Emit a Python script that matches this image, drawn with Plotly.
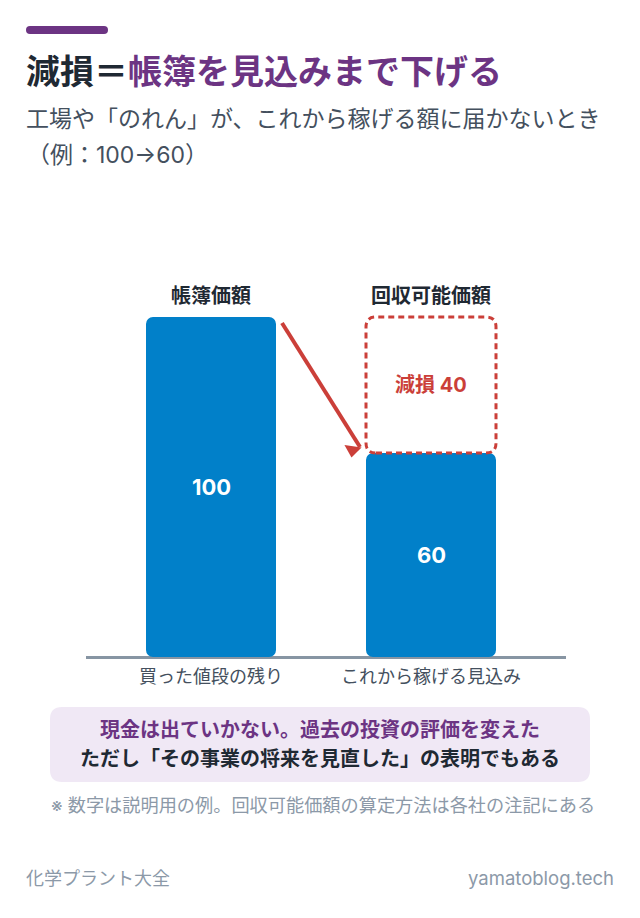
import plotly.graph_objects as go

W, H = 640, 918
CJK = "Inter, 'Noto Sans CJK JP', sans-serif"

# Values
positions = [0, 1]
tick_labels = ["買った値段の残り", "これから稼げる見込み"]
top_labels = ["帳簿価額", "回収可能価額"]
values = [100, 60]
impairment = values[0] - values[1]

# Colours
BLUE = "#0180C9"
PURPLE = "#6C3483"
RED = "#CB3F39"
DARK = "#1F2933"
GREY = "#44505E"
LIGHT = "#8C99A8"
AXIS = "#8795A3"
PANEL = "#F0E8F5"

# Pixel scale of the chart area
PX_X = 220
PX_Y = 3.4
ZERO_X = 211
ZERO_Y = 657
BAR_WIDTH = 130 / PX_X


def px(x):
    return x / W


def py(y):
    return 1 - y / H


def round_rect(x0, y0, x1, y1, rx, ry):
    # rounded box path, y0 is the lower edge
    return (
        f"M{x0 + rx},{y0} L{x1 - rx},{y0} Q{x1},{y0} {x1},{y0 + ry} "
        f"L{x1},{y1 - ry} Q{x1},{y1} {x1 - rx},{y1} "
        f"L{x0 + rx},{y1} Q{x0},{y1} {x0},{y1 - ry} "
        f"L{x0},{y0 + ry} Q{x0},{y0} {x0 + rx},{y0} Z"
    )


fig = go.Figure()

# An explicit base in overlay mode rounds both ends of the bar
fig.add_trace(go.Bar(
    x=positions,
    y=values,
    base=[0, 0],
    width=BAR_WIDTH,
    marker=dict(color=BLUE, line=dict(width=0), cornerradius=7),
    showlegend=False,
    hoverinfo="skip",
))

# Arrow from the book value down to the recoverable amount
fig.add_trace(go.Scatter(
    x=[(282 - ZERO_X) / PX_X, (360 - ZERO_X) / PX_X],
    y=[(ZERO_Y - 323) / PX_Y, (ZERO_Y - 447) / PX_Y],
    mode="lines",
    line=dict(color=RED, width=4),
    showlegend=False,
    hoverinfo="skip",
))
fig.add_trace(go.Scatter(
    x=[(352.5 - ZERO_X) / PX_X],
    y=[(ZERO_Y - 450) / PX_Y],
    mode="markers",
    marker=dict(symbol="triangle-down", size=15, color=RED, angle=8),
    showlegend=False,
    hoverinfo="skip",
))

shapes = [
    dict(type="path", xref="paper", yref="paper", layer="below",
         path=round_rect(px(26), py(34), px(108), py(26), 4 / W, 4 / H),
         fillcolor=PURPLE, line=dict(width=0)),
    dict(type="path", xref="paper", yref="paper", layer="below",
         path=round_rect(px(50), py(782), px(590), py(707), 12 / W, 12 / H),
         fillcolor=PANEL, line=dict(width=0)),
    # Impairment box on top of the recoverable bar
    dict(type="path", xref="x", yref="y", layer="above",
         path=round_rect(1 - BAR_WIDTH / 2, values[1], 1 + BAR_WIDTH / 2, values[0],
                         10 / PX_X, 10 / PX_Y),
         fillcolor="rgba(0,0,0,0)",
         line=dict(color=RED, width=3, dash="6px,4px")),
]


def label(text, x, y, size, color, bold=False, anchor="left", xref="paper", yref="paper"):
    return dict(
        text=f"<b>{text}</b>" if bold else text,
        x=x, y=y, xref=xref, yref=yref,
        xanchor=anchor, yanchor="middle",
        showarrow=False,
        font=dict(family=CJK, size=size, color=color),
    )


annotations = [
    label("工場や「のれん」が、これから稼げる額に届かないとき", px(24), py(119), 23, GREY),
    label("（例：100→60）", px(25), py(155), 23, GREY),
    label(f"減損 {impairment}", 1, values[1] + impairment / 2, 20, RED, True, "center", "x", "y"),
    label("現金は出ていかない。過去の投資の評価を変えた", px(320), py(730), 20, PURPLE, True, "center"),
    label("ただし「その事業の将来を見直した」の表明でもある", px(320), py(759), 20, DARK, True, "center"),
    label("※ 数字は説明用の例。回収可能価額の算定方法は各社の注記にある", px(49), py(805), 18.2, LIGHT),
    label("化学プラント大全", px(24), py(878), 18, LIGHT),
    label("yamatoblog.tech", px(616), py(878), 18.5, LIGHT, anchor="right"),
]
for pos, name, val in zip(positions, top_labels, values):
    annotations.append(label(name, pos, 100 + 6.2, 20, DARK, True, "center", "x", "y"))
    annotations.append(label(str(val), pos, val / 2, 22, "#FFFFFF", True, "center", "x", "y"))

y_low, y_high = -1, 112

fig.update_layout(
    width=W,
    height=H,
    margin=dict(l=0, r=0, t=0, b=0),
    paper_bgcolor="white",
    plot_bgcolor="white",
    barmode="overlay",
    title=dict(
        text=f"<b>減損＝<span style='color:{PURPLE}'>帳簿を見込みまで下げる</span></b>",
        x=px(26), y=py(72), xref="container", yref="container",
        xanchor="left", yanchor="middle",
        font=dict(family=CJK, size=34, color=DARK),
    ),
    shapes=shapes,
    annotations=annotations,
    xaxis=dict(
        domain=[px(86), px(566)],
        range=[(86 - ZERO_X) / PX_X, (566 - ZERO_X) / PX_X],
        tickmode="array",
        tickvals=positions,
        ticktext=tick_labels,
        tickfont=dict(family=CJK, size=18, color=GREY),
        ticks="",
        ticklabelstandoff=4,
        showgrid=False,
        zeroline=False,
        showline=False,
    ),
    yaxis=dict(
        domain=[py(ZERO_Y - y_low * PX_Y), py(ZERO_Y - y_high * PX_Y)],
        range=[y_low, y_high],
        showticklabels=False,
        ticks="",
        showgrid=False,
        zeroline=True,
        zerolinecolor=AXIS,
        zerolinewidth=3,
        zerolinelayer="below traces",
        showline=False,
    ),
)

# plain page with no body margin so pixels line up with the window
fig.write_html(
    "out.html",
    config={"displayModeBar": False},
    post_script="document.body.style.margin='0';document.body.style.overflow='hidden';",
)
